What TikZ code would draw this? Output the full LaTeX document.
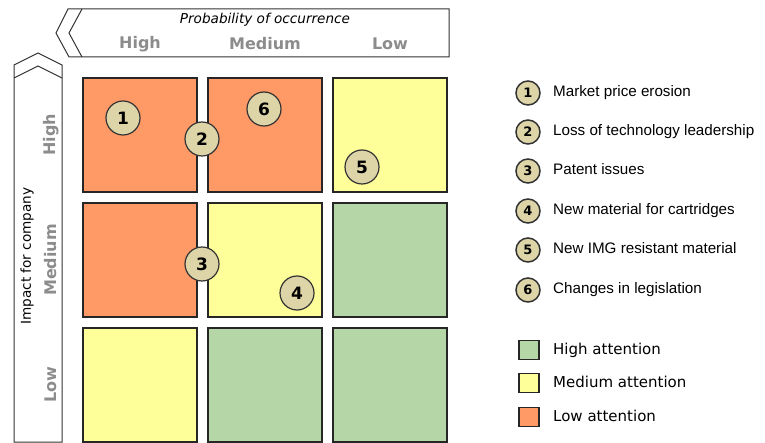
\documentclass[tikz,border=0pt]{standalone}
\usepackage{fontspec}
\setmainfont{DejaVu Sans}
\newfontfamily\arialfont{Liberation Sans}
\usetikzlibrary{positioning}

\definecolor{lowatt}{HTML}{FF9966}
\definecolor{medatt}{HTML}{FFFF99}
\definecolor{highatt}{HTML}{B5D6A6}
\definecolor{riskfill}{HTML}{DDD5A8}
\definecolor{axisgray}{HTML}{8C8C8C}

\tikzset{
  cell/.style={draw=black!85, line width=2.4pt, minimum size=113.6pt, inner sep=0pt},
  risk/.style={circle, draw=black!80, line width=1.2pt, fill=riskfill, minimum size=34pt, inner sep=0pt, font=\fontsize{17}{17}\selectfont\bfseries},
  legrisk/.style={circle, draw=black!80, line width=1.5pt, fill=riskfill, minimum size=24pt, inner sep=0pt, font=\fontsize{13}{13}\selectfont\bfseries},
  legbox/.style={draw=black!85, line width=1.5pt, minimum width=20pt, minimum height=19pt, inner sep=0pt},
  legtext/.style={anchor=west, inner sep=0pt, text height=11pt, text depth=3pt, font=\arialfont\fontsize{15.2}{15.2}\selectfont},
  atttext/.style={anchor=west, inner sep=0pt, text height=11pt, text depth=3pt, font=\fontsize{15}{15}\selectfont},
  banner/.style={draw=black!80, line width=1pt},
  axislabel/.style={text=axisgray, font=\fontsize{16}{16}\selectfont\bfseries},
  axistitle/.style={font=\fontsize{13.6}{13.6}\selectfont},
}

\begin{document}
\begin{tikzpicture}[x=1pt, y=-1pt, node distance=125pt, on grid]
        \useasboundingbox (0,0) rectangle (765,443);

        % banners
        \draw[banner] (68,9) -- (449,9) -- (449,57) -- (69,57) -- (56,33) -- cycle;
        \draw[banner] (82,9) -- (69,33) -- (82,57);
        \draw[banner] (14,65) -- (38,53) -- (62,65) -- (62,442) -- (14,442) -- cycle;
        \draw[banner] (14,78) -- (38,66) -- (62,78);

        \node[axistitle] (probtitle) at (265,20) {\itshape Probability of occurrence};
        \node[axislabel] (phigh) at (140,44) {High};
        \node[axislabel] (pmed)  at (265,44) {Medium};
        \node[axislabel] (plow)  at (390,44) {Low};

        \node[axistitle, rotate=90] (imptitle) at (27,256) {Impact for company};
        \node[axislabel, rotate=90] (ihigh) at (51,135) {High};
        \node[axislabel, rotate=90] (imed)  at (51,260) {Medium};
        \node[axislabel, rotate=90] (ilow)  at (51,385) {Low};

        % matrix cells
        \node[cell, fill=lowatt] (c11) at (140,135) {};
        \node[cell, fill=lowatt] (c12) [right=of c11] {};
        \node[cell, fill=medatt] (c13) [right=of c12] {};
        \node[cell, fill=lowatt] (c21) [below=of c11] {};
        \node[cell, fill=medatt] (c22) [right=of c21] {};
        \node[cell, fill=highatt] (c23) [right=of c22] {};
        \node[cell, fill=medatt] (c31) [below=of c21] {};
        \node[cell, fill=highatt] (c32) [right=of c31] {};
        \node[cell, fill=highatt] (c33) [right=of c32] {};

        % risks
        \node[risk] (r1) at (123,118) {1};
        \node[risk] (r2) at (202,139) {2};
        \node[risk] (r3) at (202,264) {3};
        \node[risk] (r4) at (297,293) {4};
        \node[risk] (r5) at (362,167) {5};
        \node[risk] (r6) at (264,109) {6};

        % legend
        \node[legrisk] (l1) at (528,93)  {1};
        \node[legrisk] (l2) at (528,132) {2};
        \node[legrisk] (l3) at (528,171) {3};
        \node[legrisk] (l4) at (528,211) {4};
        \node[legrisk] (l5) at (528,250) {5};
        \node[legrisk] (l6) at (528,290) {6};
        \node[legtext] (t1) at (553,93)  {Market price erosion};
        \node[legtext] (t2) at (553,132) {Loss of technology leadership};
        \node[legtext] (t3) at (553,171) {Patent issues};
        \node[legtext] (t4) at (553,211) {New material for cartridges};
        \node[legtext] (t5) at (553,250) {New IMG resistant material};
        \node[legtext] (t6) at (553,290) {Changes in legislation};

        \node[legbox, fill=highatt] (bhigh) at (529,350) {};
        \node[legbox, fill=medatt]  (bmed)  at (529,383) {};
        \node[legbox, fill=lowatt]  (blow)  at (529,417) {};
        \node[atttext] (ahigh) at (553,350) {High attention};
        \node[atttext] (amed)  at (553,383) {Medium attention};
        \node[atttext] (alow)  at (553,417) {Low attention};
\end{tikzpicture}
\end{document}
